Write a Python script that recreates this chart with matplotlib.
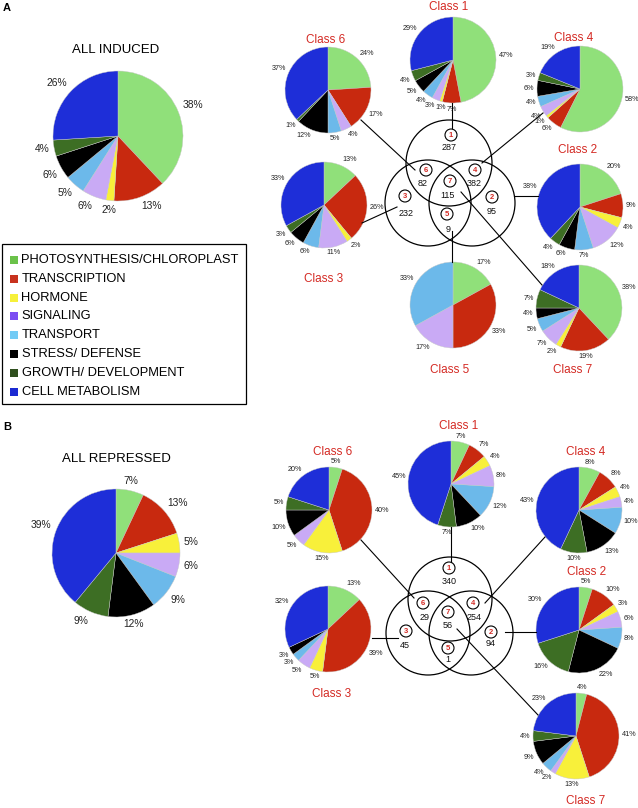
import math
import matplotlib
matplotlib.use('Agg')
import matplotlib.pyplot as plt
from matplotlib.patches import Circle, Rectangle

plt.rcParams['font.family'] = ['Liberation Sans', 'DejaVu Sans']

# functional categories (legend order = clockwise order in every pie)
categories = ['PHOTOSYNTHESIS/CHLOROPLAST', 'TRANSCRIPTION', 'HORMONE', 'SIGNALING',
              'TRANSPORT', 'STRESS/ DEFENSE', 'GROWTH/ DEVELOPMENT', 'CELL METABOLISM']
pie_colors = ['#90E07A', '#C8290F', '#F8F03A', '#C9AAF5', '#6CB9EA', '#000000', '#3D6E24', '#1E2ED8']
legend_colors = ['#6BC24A', '#C8321E', '#F6F03A', '#7B4DF2', '#73CBF5', '#000000', '#2F4F1E', '#1B2AD2']

# percentages per category
induced_all = [38, 13, 2, 6, 5, 6, 4, 26]
induced_c1 = [47, 7, 1, 3, 4, 5, 4, 29]
induced_c2 = [20, 9, 4, 12, 7, 6, 4, 38]
induced_c3 = [13, 26, 2, 11, 6, 6, 3, 33]
induced_c4 = [58, 6, 1, 4, 4, 6, 3, 19]
induced_c5 = [17, 33, 0, 17, 33, 0, 0, 0]
induced_c6 = [24, 17, 0, 4, 5, 12, 1, 37]
induced_c7 = [38, 19, 2, 7, 5, 4, 7, 18]

repressed_all = [7, 13, 5, 6, 9, 12, 9, 39]
repressed_c1 = [7, 7, 4, 8, 12, 10, 7, 45]
repressed_c2 = [5, 10, 3, 6, 8, 22, 16, 30]
repressed_c3 = [13, 39, 5, 5, 3, 3, 0, 32]
repressed_c4 = [8, 8, 4, 4, 10, 13, 10, 43]
repressed_c6 = [5, 40, 15, 5, 0, 10, 5, 20]
repressed_c7 = [4, 41, 13, 2, 4, 9, 4, 23]

# gene counts in venn regions, class 1..7
induced_counts = [287, 95, 232, 382, 9, 82, 115]
repressed_counts = [340, 94, 45, 254, 1, 29, 56]

title_red = '#D42A24'

fig = plt.figure(figsize=(6.38, 8.08), dpi=100)
ax = fig.add_axes([0, 0, 1, 1])


def draw_pie(vals, cx, cy, r, fs, ld):
    keep = [i for i in range(len(vals)) if vals[i] > 0]
    # y axis is flipped later, so counterclock in data = clockwise on screen
    wedges, _ = ax.pie([vals[i] for i in keep], colors=[pie_colors[i] for i in keep],
                       center=(cx, cy), radius=r, startangle=-90, counterclock=True,
                       wedgeprops=dict(edgecolor='#c8c8c8', linewidth=0.3), frame=True)
    for w, i in zip(wedges, keep):
        t = math.radians((w.theta1 + w.theta2) / 2)
        c, s = math.cos(t), math.sin(t)
        ha = 'left' if c > 0.3 else ('right' if c < -0.3 else 'center')
        # s < 0 means above the centre on screen (flipped y)
        va = 'bottom' if s < -0.3 else ('top' if s > 0.3 else 'center')
        ax.text(cx + ld * r * c, cy + ld * r * s, '%d%%' % vals[i], ha=ha, va=va,
                fontsize=fs, color='#222222')


def draw_venn(circles, vr, region_pos, counts):
    for (x, y) in circles:
        ax.add_patch(Circle((x, y), vr, fill=False, ec='black', lw=0.9))
    for k in range(7):
        (lx, ly), (nx, ny) = region_pos[k]
        ax.add_patch(Circle((lx, ly), 6, fc='white', ec='black', lw=0.8, zorder=4))
        ax.text(lx, ly + 0.3, str(k + 1), ha='center', va='center', fontsize=5.5,
                color=title_red, fontweight='bold', zorder=5)
        ax.text(nx, ny, str(counts[k]), ha='center', va='center', fontsize=6.5, color='#111111')


def connectors(segs):
    for (x1, y1, x2, y2) in segs:
        ax.plot([x1, x2], [y1, y2], color='black', lw=0.8, zorder=3)


# ---------------- panel A ----------------
ax.text(3, 8, 'A', fontsize=8, fontweight='bold', va='center', ha='left')
ax.text(116, 50, 'ALL INDUCED', fontsize=9.5, ha='center', va='center')
draw_pie(induced_all, 118, 136, 65, 7.4, 1.07)

induced = {1: induced_c1, 2: induced_c2, 3: induced_c3, 4: induced_c4,
           5: induced_c5, 6: induced_c6, 7: induced_c7}
pie_pos_a = {1: (453, 60), 2: (580, 207), 3: (324, 205), 4: (580, 89),
             5: (453, 305), 6: (328, 90), 7: (579, 308)}
title_pos_a = {1: (449, 7), 2: (578, 150), 3: (324, 279), 4: (574, 38),
               5: (450, 370), 6: (326, 40), 7: (573, 370)}
for k in induced:
    cx, cy = pie_pos_a[k]
    draw_pie(induced[k], cx, cy, 43, 5.2, 1.06)
    tx, ty = title_pos_a[k]
    ax.text(tx, ty, 'Class %d' % k, fontsize=8.5, color=title_red, ha='center', va='center')

draw_venn([(449, 163), (428, 203), (472, 203)], 43,
          [((451, 135), (449, 147)), ((492, 197), (492, 212)), ((405, 196), (406, 213)),
           ((475, 170), (474, 183)), ((447, 214), (448, 229)), ((426, 170), (423, 183)),
           ((450, 181), (448, 196))],
          induced_counts)
connectors([(452, 103, 452, 129), (361, 120, 415, 170), (543, 113, 482, 163),
            (514, 196, 538, 196), (362, 223, 397, 207), (452, 231, 452, 262),
            (461, 192, 542, 285)])

# legend
ax.add_patch(Rectangle((2, 244), 244, 160, fill=False, ec='black', lw=0.9))
for i, name in enumerate(categories):
    y = 260 + i * 18.8
    ax.add_patch(Rectangle((9.5, y - 4), 8, 8, fc=legend_colors[i], ec='none'))
    ax.text(21.5, y, name, fontsize=9.3, ha='left', va='center')

# ---------------- panel B ----------------
ax.text(3, 427, 'B', fontsize=8, fontweight='bold', va='center', ha='left')
ax.text(116, 459, 'ALL REPRESSED', fontsize=9.5, ha='center', va='center')
draw_pie(repressed_all, 116, 553, 64, 7.4, 1.07)

repressed = {1: repressed_c1, 2: repressed_c2, 3: repressed_c3, 4: repressed_c4,
             6: repressed_c6, 7: repressed_c7}
pie_pos_b = {1: (451, 484), 2: (579, 630), 3: (328, 629), 4: (579, 510),
             6: (329, 510), 7: (576, 736)}
title_pos_b = {1: (459, 426), 2: (587, 572), 3: (332, 694), 4: (586, 452),
               6: (333, 452), 7: (586, 801)}
for k in repressed:
    cx, cy = pie_pos_b[k]
    draw_pie(repressed[k], cx, cy, 43, 5.2, 1.06)
    tx, ty = title_pos_b[k]
    ax.text(tx, ty, 'Class %d' % k, fontsize=8.5, color=title_red, ha='center', va='center')

draw_venn([(450, 599), (428, 633), (471, 633)], 42,
          [((449, 568), (449, 582)), ((491, 632), (491, 644)), ((406, 631), (405, 645)),
           ((473, 603), (474, 617)), ((448, 648), (448, 660)), ((423, 603), (425, 618)),
           ((448, 612), (448, 626))],
          repressed_counts)
connectors([(451, 527, 451, 562), (361, 540, 414, 598), (545, 537, 485, 603),
            (505, 632, 536, 632), (372, 638, 398, 638), (457, 629, 538, 715)])

ax.set_xlim(0, 638)
ax.set_ylim(808, 0)
ax.set_aspect('equal')
ax.axis('off')

fig.savefig('out.png', dpi=100)
